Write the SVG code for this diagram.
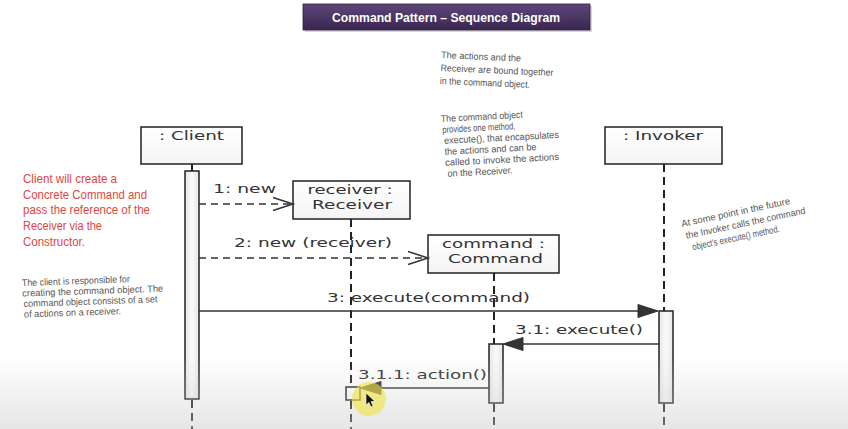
<svg xmlns="http://www.w3.org/2000/svg" width="848" height="429" viewBox="0 0 848 429">
  <defs>
    <linearGradient id="titleGrad" x1="0" y1="0" x2="0" y2="1">
      <stop offset="0" stop-color="#5e4779"/>
      <stop offset="1" stop-color="#3a2650"/>
    </linearGradient>
    <linearGradient id="barGrad" x1="0" y1="0" x2="1" y2="0">
      <stop offset="0" stop-color="#e6e6ea"/>
      <stop offset="0.5" stop-color="#fafafa"/>
      <stop offset="1" stop-color="#e6e6ea"/>
    </linearGradient>
    <linearGradient id="boxGrad" x1="0" y1="0" x2="0" y2="1">
      <stop offset="0" stop-color="#ffffff"/>
      <stop offset="1" stop-color="#f4f4f6"/>
    </linearGradient>
    <linearGradient id="bottomShade" x1="0" y1="0" x2="0" y2="1">
      <stop offset="0" stop-color="#c8c8c8" stop-opacity="0"/>
      <stop offset="1" stop-color="#c8c8c8" stop-opacity="0.45"/>
    </linearGradient>
    <style>
      .box { fill: url(#boxGrad); stroke: #222; stroke-width: 1.5; }
      .bar { fill: url(#barGrad); stroke: #222; stroke-width: 1.5; }
      .life { stroke: #222; stroke-width: 2; stroke-dasharray: 8 5; fill: none; }
      .lbl { font-family: "DejaVu Sans", sans-serif; font-size: 13px; fill: #333; }
      .mid { text-anchor: middle; }
      .msg { stroke: #333; stroke-width: 1.5; fill: none; }
      .dash { stroke-dasharray: 7 5; }
      .open { stroke: #333; stroke-width: 1.5; fill: none; }
      .head { fill: #333; stroke: #333; stroke-width: 1; }
      .red { font-family: "Liberation Sans", Arial, sans-serif; font-size: 12px; fill: #e0463f; }
      .hand { font-family: "Liberation Sans", Arial, sans-serif; font-size: 9.5px; fill: #555; }
      .title { font-family: "Liberation Sans", Arial, sans-serif; font-size: 13px; font-weight: bold; fill: #ffffff; }
    </style>
  </defs>

  <rect x="0" y="0" width="848" height="429" fill="#ffffff"/>

  <!-- title -->
  <g id="title">
    <rect x="305" y="6" width="287" height="26" fill="#bbbbbb" opacity="0.6"/>
    <rect x="303" y="4" width="287" height="26" fill="url(#titleGrad)" stroke="#2e1f40" stroke-width="0.8"/>
    <text class="title mid" x="446" y="21.5" textLength="228" lengthAdjust="spacingAndGlyphs">Command Pattern – Sequence Diagram</text>
  </g>

  <!-- notes -->
  <g id="note-bound" transform="rotate(2.5 441 58)">
    <text class="hand" x="441" y="58" textLength="80" lengthAdjust="spacingAndGlyphs">The actions and the</text>
    <text class="hand" x="441" y="71" textLength="113" lengthAdjust="spacingAndGlyphs">Receiver are bound together</text>
    <text class="hand" x="441" y="84" textLength="90" lengthAdjust="spacingAndGlyphs">in the command object.</text>
  </g>
  <g id="note-execute" transform="rotate(-3 441 122)">
    <text class="hand" x="441" y="122" textLength="82" lengthAdjust="spacingAndGlyphs">The command object</text>
    <text class="hand" x="442" y="133" textLength="73" lengthAdjust="spacingAndGlyphs">provides one method,</text>
    <text class="hand" x="443" y="144" textLength="115" lengthAdjust="spacingAndGlyphs">execute(), that encapsulates</text>
    <text class="hand" x="443" y="155" textLength="92" lengthAdjust="spacingAndGlyphs">the actions and can be</text>
    <text class="hand" x="443" y="166" textLength="114" lengthAdjust="spacingAndGlyphs">called to invoke the actions</text>
    <text class="hand" x="445" y="177" textLength="65" lengthAdjust="spacingAndGlyphs">on the Receiver.</text>
  </g>
  <g id="note-red">
    <text class="red" x="23" y="183" textLength="94" lengthAdjust="spacingAndGlyphs">Client will create a</text>
    <text class="red" x="23" y="198.7" textLength="124" lengthAdjust="spacingAndGlyphs">Concrete Command and</text>
    <text class="red" x="23" y="214.4" textLength="127" lengthAdjust="spacingAndGlyphs">pass the reference of the</text>
    <text class="red" x="23" y="230.1" textLength="79" lengthAdjust="spacingAndGlyphs">Receiver via the</text>
    <text class="red" x="23" y="245.8" textLength="62" lengthAdjust="spacingAndGlyphs">Constructor.</text>
  </g>
  <g id="note-client" transform="rotate(-2 22 286)">
    <text class="hand" x="22" y="286" textLength="108" lengthAdjust="spacingAndGlyphs">The client is responsible for</text>
    <text class="hand" x="22" y="296.5" textLength="141" lengthAdjust="spacingAndGlyphs">creating the command object.  The</text>
    <text class="hand" x="23" y="307" textLength="134" lengthAdjust="spacingAndGlyphs">command object consists of a set</text>
    <text class="hand" x="23" y="317.5" textLength="97" lengthAdjust="spacingAndGlyphs">of actions on a receiver.</text>
  </g>
  <g id="note-invoker" transform="translate(682 227) rotate(-12)">
    <text class="hand" x="0" y="0" textLength="111" lengthAdjust="spacingAndGlyphs">At some point in the future</text>
    <text class="hand" x="2" y="12.5" textLength="122" lengthAdjust="spacingAndGlyphs">the Invoker calls the command</text>
    <text class="hand" x="6" y="25" textLength="89" lengthAdjust="spacingAndGlyphs">object's execute() method.</text>
  </g>

  <!-- lifelines & nodes -->
  <g id="client">
    <rect class="box" x="141" y="127" width="101" height="37"/>
    <text class="lbl mid" x="191.5" y="139.5" textLength="65" lengthAdjust="spacingAndGlyphs">: Client</text>
    <line x1="192" y1="164" x2="192" y2="171" stroke="#222" stroke-width="2"/>
    <rect class="bar" x="185" y="171" width="14" height="228"/>
    <line class="life" x1="192" y1="400" x2="192" y2="429"/>
  </g>

  <g id="receiver">
    <line class="life" x1="351" y1="219" x2="351" y2="429"/>
    <rect class="box" x="293" y="181" width="117" height="38"/>
    <text class="lbl mid" x="350" y="194" textLength="85" lengthAdjust="spacingAndGlyphs">receiver :</text>
    <text class="lbl mid" x="352" y="209" textLength="80" lengthAdjust="spacingAndGlyphs">Receiver</text>
    <rect x="346" y="387" width="14" height="13" fill="#ffffff" stroke="#222" stroke-width="1.5"/>
  </g>

  <g id="command">
    <line class="life" x1="494" y1="273" x2="494" y2="344"/>
    <line class="life" x1="494" y1="404" x2="494" y2="429"/>
    <rect class="box" x="428" y="235" width="131" height="38"/>
    <text class="lbl mid" x="493.5" y="248" textLength="103" lengthAdjust="spacingAndGlyphs">command :</text>
    <text class="lbl mid" x="495.5" y="263" textLength="95" lengthAdjust="spacingAndGlyphs">Command</text>
    <rect class="bar" x="489" y="344" width="14" height="59"/>
  </g>

  <g id="invoker">
    <line class="life" x1="664" y1="164" x2="664" y2="311"/>
    <line class="life" x1="664" y1="404" x2="664" y2="429"/>
    <rect class="box" x="605" y="127" width="117" height="37"/>
    <text class="lbl mid" x="663" y="140" textLength="80" lengthAdjust="spacingAndGlyphs">: Invoker</text>
    <rect class="bar" x="659" y="311" width="14" height="92"/>
  </g>

  <!-- connectors -->
  <g id="connectors">
    <line class="msg dash" x1="199" y1="204" x2="292" y2="204"/>
    <polyline class="open" points="273,197.5 293,204 273,210.5"/>
    <text class="lbl" x="213" y="193" textLength="63" lengthAdjust="spacingAndGlyphs">1: new</text>

    <line class="msg dash" x1="199" y1="258" x2="427" y2="258"/>
    <polyline class="open" points="408,251.5 428,258 408,264.5"/>
    <text class="lbl" x="234" y="247" textLength="158" lengthAdjust="spacingAndGlyphs">2: new (receiver)</text>

    <line class="msg" x1="199" y1="311" x2="640" y2="311"/>
    <polygon class="head" points="638,304.5 658,311 638,317.5"/>
    <text class="lbl" x="327" y="302" textLength="203" lengthAdjust="spacingAndGlyphs">3: execute(command)</text>

    <line class="msg" x1="659" y1="344" x2="521" y2="344"/>
    <polygon class="head" points="523,337.5 503,344 523,350.5"/>
    <text class="lbl" x="515" y="334" textLength="128" lengthAdjust="spacingAndGlyphs">3.1: execute()</text>

    <line class="msg" x1="489" y1="388" x2="379" y2="388"/>
    <polygon class="head" points="381,381.5 360,388 381,394.5"/>
    <text class="lbl" x="358" y="379" textLength="129" lengthAdjust="spacingAndGlyphs">3.1.1: action()</text>
  </g>

  <!-- bottom shading and cursor highlight -->
  <rect x="0" y="355" width="848" height="74" fill="url(#bottomShade)"/>
  <circle cx="369" cy="399" r="17" fill="#f0e23c" opacity="0.6"/>
  <polygon points="366,393 366,405 369,402.5 371,407 373,406 371,401.5 375,401.5" fill="#111" stroke="#fff" stroke-width="0.6"/>
</svg>
